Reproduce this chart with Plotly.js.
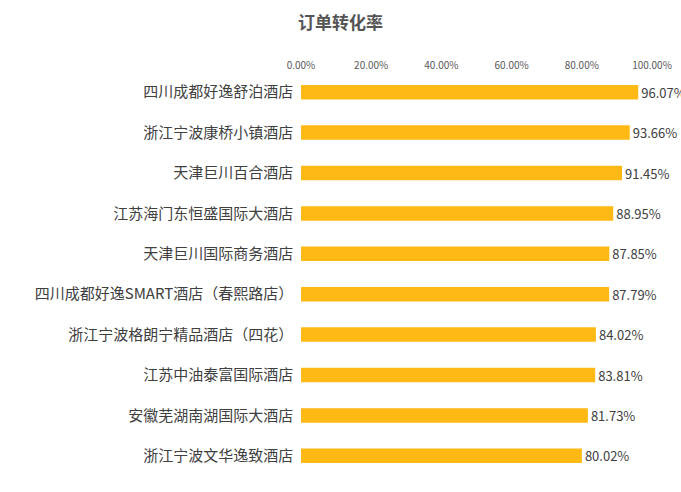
<!DOCTYPE html>
<html><head><meta charset="utf-8">
<script src="https://cdn.plot.ly/plotly-3.0.1.min.js"></script>
<style>body{margin:0}</style></head><body>
<div id="c" style="width:681px;height:492px"></div>
<script>
const hotels = ["四川成都好逸舒泊酒店","浙江宁波康桥小镇酒店","天津巨川百合酒店","江苏海门东恒盛国际大酒店","天津巨川国际商务酒店","四川成都好逸SMART酒店（春熙路店）","浙江宁波格朗宁精品酒店（四花）","江苏中油泰富国际酒店","安徽芜湖南湖国际大酒店","浙江宁波文华逸致酒店"];
const rates = [0.9607,0.9366,0.9145,0.8895,0.8785,0.8779,0.8402,0.8381,0.8173,0.8002];
const tickVals = [0,0.2,0.4,0.6,0.8,1.0];
const tickText = ["0.00%","20.00%","40.00%","60.00%","80.00%","100.00%"];
Plotly.newPlot("c",[{
 type:"bar",orientation:"h",y:hotels,x:rates,
 marker:{color:"#FFB914"},
 text:rates.map(v=>(v*100).toFixed(2)+"%"),textposition:"outside",cliponaxis:false,constraintext:"none",
 textfont:{size:13,color:"#404040"}
}],{
 width:681,height:492,margin:{l:301,r:29,t:72,b:16},
 font:{family:"Noto Sans CJK SC, sans-serif",color:"#404040"},
 title:{text:"<b>订单转化率</b>",x:0.5,xanchor:"center",y:0.965,font:{size:17,color:"#555"}},
 bargap:0.64,showlegend:false,
 xaxis:{side:"top",range:[0,1],tickvals:tickVals,ticktext:tickText,showgrid:false,zeroline:false,tickfont:{size:10,color:"#595959"}},
 yaxis:{autorange:"reversed",tickfont:{size:15,color:"#404040"},ticks:"",showline:false,ticksuffix:"  "},
 paper_bgcolor:"#fff",plot_bgcolor:"#fff"
},{displayModeBar:false});
</script></body></html>
